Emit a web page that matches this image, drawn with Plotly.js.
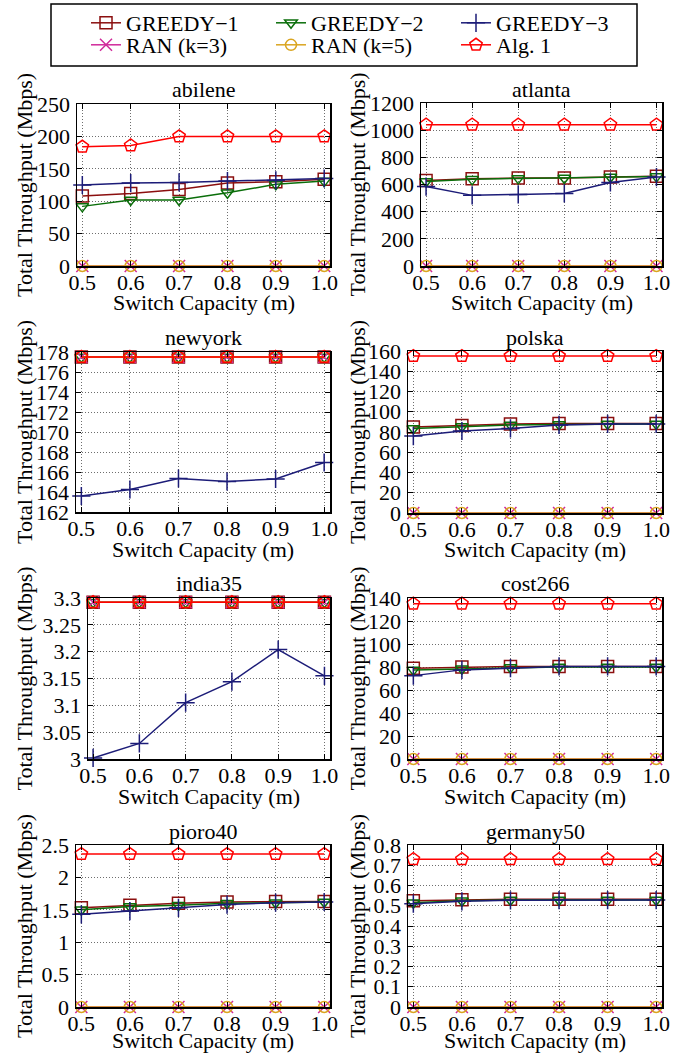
<!DOCTYPE html>
<html>
<head>
<meta charset="utf-8">
<script src="https://cdn.plot.ly/plotly-3.0.1.min.js"></script>
<style>html,body{margin:0;padding:0;background:#fff;}#chart{width:693px;height:1055px;}</style>
</head>
<body>
<div id="chart"></div>
<script>
// ---------------- DATA ----------------
const capacity = [0.5, 0.6, 0.7, 0.8, 0.9, 1.0];
const xTickText = ['0.5', '0.6', '0.7', '0.8', '0.9', '1.0'];
const seriesNames = ['GREEDY\u22121', 'GREEDY\u22122', 'GREEDY\u22123', 'RAN (k=3)', 'RAN (k=5)', 'Alg. 1'];
const topologies = ['abilene', 'atlanta', 'newyork', 'polska', 'india35', 'cost266', 'pioro40', 'germany50'];

const abileneG1   = [108, 112, 118, 128, 130, 134];
const abileneG2   = [92, 102, 102, 113, 126, 131];
const abileneG3   = [125, 128, 129, 131, 132, 135];
const abileneRan3 = [0, 0, 0, 0, 0, 0];
const abileneRan5 = [0, 0, 0, 0, 0, 0];
const abileneAlg1 = [184, 186, 200, 200, 200, 200];

const atlantaG1   = [630, 642, 647, 648, 655, 660];
const atlantaG2   = [622, 638, 645, 648, 655, 658];
const atlantaG3   = [585, 520, 527, 534, 615, 655];
const atlantaRan3 = [0, 0, 0, 0, 0, 0];
const atlantaRan5 = [0, 0, 0, 0, 0, 0];
const atlantaAlg1 = [1040, 1040, 1040, 1040, 1040, 1040];

const newyorkG1   = [177.5, 177.5, 177.5, 177.5, 177.5, 177.5];
const newyorkG2   = [177.5, 177.5, 177.5, 177.5, 177.5, 177.5];
const newyorkG3   = [163.6, 164.25, 165.35, 165.05, 165.3, 166.95];
const newyorkRan3 = [177.5, 177.5, 177.5, 177.5, 177.5, 177.5];
const newyorkRan5 = [177.5, 177.5, 177.5, 177.5, 177.5, 177.5];
const newyorkAlg1 = [177.5, 177.5, 177.5, 177.5, 177.5, 177.5];

const polskaG1   = [85, 86.5, 88, 88.5, 88.5, 88.5];
const polskaG2   = [83.5, 85.5, 87, 87.5, 88, 88];
const polskaG3   = [76, 81, 83.5, 87, 88, 88];
const polskaRan3 = [0, 0, 0, 0, 0, 0];
const polskaRan5 = [0, 0, 0, 0, 0, 0];
const polskaAlg1 = [155, 155, 155, 155, 155, 155];

const india35G1   = [3.292, 3.292, 3.292, 3.292, 3.292, 3.292];
const india35G2   = [3.292, 3.292, 3.292, 3.292, 3.292, 3.292];
const india35G3   = [3.002, 3.029, 3.105, 3.144, 3.204, 3.155];
const india35Ran3 = [3.292, 3.292, 3.292, 3.292, 3.292, 3.292];
const india35Ran5 = [3.292, 3.292, 3.292, 3.292, 3.292, 3.292];
const india35Alg1 = [3.292, 3.292, 3.292, 3.292, 3.292, 3.292];

const cost266G1   = [79, 80, 80.5, 80.5, 80.5, 80.5];
const cost266G2   = [77.5, 78.5, 79.5, 80, 80, 80];
const cost266G3   = [72.5, 77.5, 79, 80.5, 80.5, 80.5];
const cost266Ran3 = [0, 0, 0, 0, 0, 0];
const cost266Ran5 = [0, 0, 0, 0, 0, 0];
const cost266Alg1 = [135, 135, 135, 135, 135, 135];

const pioro40G1   = [1.53, 1.57, 1.6, 1.62, 1.63, 1.63];
const pioro40G2   = [1.5, 1.55, 1.57, 1.6, 1.61, 1.62];
const pioro40G3   = [1.43, 1.48, 1.53, 1.58, 1.61, 1.62];
const pioro40Ran3 = [0, 0, 0, 0, 0, 0];
const pioro40Ran5 = [0, 0, 0, 0, 0, 0];
const pioro40Alg1 = [2.36, 2.36, 2.36, 2.36, 2.36, 2.36];

const germany50G1   = [0.525, 0.53, 0.532, 0.532, 0.532, 0.532];
const germany50G2   = [0.515, 0.525, 0.528, 0.528, 0.528, 0.528];
const germany50G3   = [0.51, 0.522, 0.527, 0.528, 0.528, 0.528];
const germany50Ran3 = [0, 0, 0, 0, 0, 0];
const germany50Ran5 = [0, 0, 0, 0, 0, 0];
const germany50Alg1 = [0.73, 0.73, 0.73, 0.73, 0.73, 0.73];

const yRanges = [[0, 250], [0, 1200], [162, 178], [0, 160], [3, 3.3], [0, 140], [0, 2.5], [0, 0.8]];
const yDticks = [50, 200, 2, 20, 0.05, 20, 0.5, 0.1];

const panelSeries = [
  [abileneG1, abileneG2, abileneG3, abileneRan3, abileneRan5, abileneAlg1],
  [atlantaG1, atlantaG2, atlantaG3, atlantaRan3, atlantaRan5, atlantaAlg1],
  [newyorkG1, newyorkG2, newyorkG3, newyorkRan3, newyorkRan5, newyorkAlg1],
  [polskaG1, polskaG2, polskaG3, polskaRan3, polskaRan5, polskaAlg1],
  [india35G1, india35G2, india35G3, india35Ran3, india35Ran5, india35Alg1],
  [cost266G1, cost266G2, cost266G3, cost266Ran3, cost266Ran5, cost266Alg1],
  [pioro40G1, pioro40G2, pioro40G3, pioro40Ran3, pioro40Ran5, pioro40Alg1],
  [germany50G1, germany50G2, germany50G3, germany50Ran3, germany50Ran5, germany50Alg1]
];

// ---------------- STYLE / LAYOUT ----------------
const W = 693, H = 1055;
const FONT = '"Liberation Serif", "Times New Roman", Times, serif';
const colors = ['#8b0f0f', '#0a6e0a', '#1c1c78', '#d02a9a', '#daa520', '#ff0000'];
const symbols = ['square-open', 'triangle-down-open', 'cross-thin-open', 'x-thin-open', 'circle-open', 'pentagon-open'];
const msizes = [12, 11, 13, 12, 11, 13];

// plot areas in pixels [left, right, top, bottom]
const boxes = [
  [77, 330, 104, 266], [421, 662, 103, 266],
  [76, 330, 352, 512], [408, 662, 351, 513],
  [88, 330, 598, 759], [408, 662, 598, 759],
  [76, 330, 845, 1007], [408, 662, 845, 1007]
];
const titleY = [90, 90, 337, 337, 583, 583, 831, 831];
const xTitleY = [302, 302, 549, 549, 796, 796, 1040, 1040];
const yTitleX = [24, 357, 24, 357, 24, 357, 24, 357];

const px = v => v / W;
const py = v => 1 - v / H;

const legendBase = {
  orientation: 'h', xanchor: 'left', yanchor: 'middle',
  font: {family: FONT, size: 22, color: '#000'}, entrywidth: 140, entrywidthmode: 'pixels',
  bgcolor: 'rgba(0,0,0,0)', borderwidth: 0, traceorder: 'normal'
};

const traces = [];
const layout = {
  width: W, height: H,
  margin: {l: 0, r: 0, t: 0, b: 0},
  paper_bgcolor: '#fff', plot_bgcolor: '#fff',
  font: {family: FONT, size: 22, color: '#000'},
  annotations: [], shapes: [],
  legend: Object.assign({}, legendBase, {x: px(86), y: py(23)}),
  legend2: Object.assign({}, legendBase, {x: px(86), y: py(45)})
};

layout.shapes.push({
  type: 'rect', xref: 'paper', yref: 'paper',
  x0: px(51), x1: px(637), y0: py(4), y1: py(66),
  line: {color: '#000', width: 1.5}, fillcolor: 'rgba(0,0,0,0)'
});

topologies.forEach((name, p) => {
  const sfx = p === 0 ? '' : String(p + 1);
  const b = boxes[p];
  layout['xaxis' + sfx] = {
    domain: [px(b[0]), px(b[1])], range: [0.489, 1.012], anchor: 'y' + sfx,
    tickvals: capacity, ticktext: xTickText,
    showgrid: true, gridcolor: '#6e6e6e', griddash: '1px,2px', gridwidth: 1,
    zeroline: false, showline: true, mirror: 'ticks', linecolor: '#000', linewidth: 1.5,
    ticks: 'inside', ticklen: 5, tickcolor: '#000', tickwidth: 1,
    tickfont: {family: FONT, size: 22, color: '#000'}, ticklabelstandoff: -4, fixedrange: true
  };
  layout['yaxis' + sfx] = {
    domain: [py(b[3]), py(b[2])], range: yRanges[p], anchor: 'x' + sfx,
    dtick: yDticks[p], tick0: yRanges[p][0],
    showgrid: true, gridcolor: '#6e6e6e', griddash: '1px,2px', gridwidth: 1,
    zeroline: false, showline: true, mirror: 'ticks', linecolor: '#000', linewidth: 1.5,
    ticks: 'inside', ticklen: 5, tickcolor: '#000', tickwidth: 1,
    tickfont: {family: FONT, size: 22, color: '#000'}, ticklabelstandoff: 1, fixedrange: true
  };
  const cx = (b[0] + b[1]) / 2;
  const cy = (b[2] + b[3]) / 2;
  layout.annotations.push(
    {text: name, xref: 'paper', yref: 'paper', x: px(cx), y: py(titleY[p]), xanchor: 'center', yanchor: 'middle', showarrow: false, font: {family: FONT, size: 22, color: '#000'}},
    {text: 'Switch Capacity (m)', xref: 'paper', yref: 'paper', x: px(cx), y: py(xTitleY[p]), xanchor: 'center', yanchor: 'middle', showarrow: false, borderpad: 0, font: {family: FONT, size: 22, color: '#000'}},
    {text: 'Total Throughput (Mbps)', xref: 'paper', yref: 'paper', x: px(yTitleX[p]), y: py(cy), xanchor: 'center', yanchor: 'middle', textangle: -90, showarrow: false, font: {family: FONT, size: 22, color: '#000'}}
  );
  panelSeries[p].forEach((vals, s) => {
    traces.push({
      type: 'scatter', mode: 'lines+markers',
      x: capacity, y: vals, name: seriesNames[s],
      xaxis: 'x' + sfx, yaxis: 'y' + sfx,
      legend: s < 3 ? 'legend' : 'legend2',
      showlegend: p === 0,
      cliponaxis: false,
      line: {color: colors[s], width: 1.5},
      marker: {symbol: symbols[s], size: msizes[s], color: colors[s], line: {color: colors[s], width: 1.5}}
    });
  });
});

Plotly.newPlot('chart', traces, layout, {staticPlot: true, displayModeBar: false});
</script>
</body>
</html>
